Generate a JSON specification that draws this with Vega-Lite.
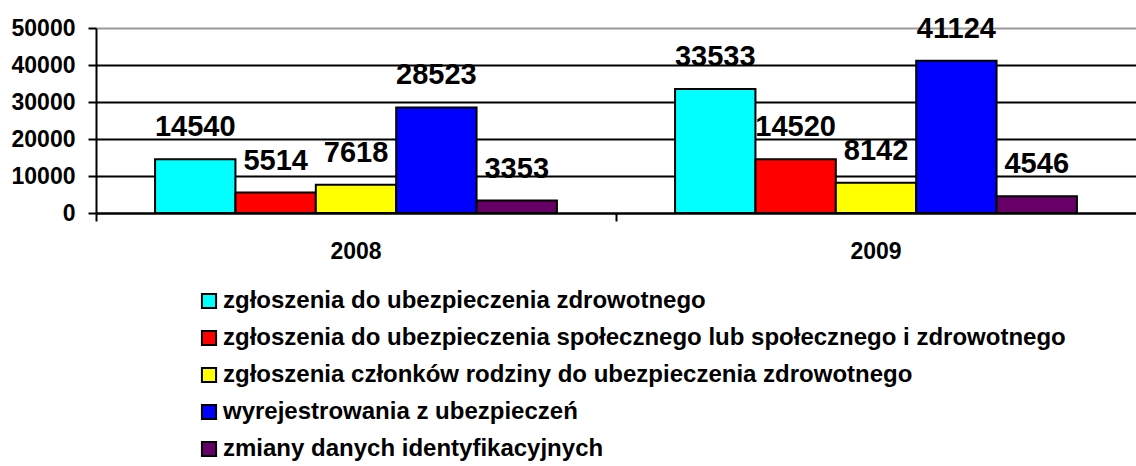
{
  "$schema": "https://vega.github.io/schema/vega-lite/v6.json",
  "width": 1040,
  "height": 185,
  "autosize": {"type": "none"},
  "padding": {"left": 96, "top": 28, "right": 0, "bottom": 253},
  "background": "white",
  "config": {
    "view": {"stroke": null},
    "font": "Liberation Sans"
  },
  "data": {
    "values": [
      {"year": "2008", "cat": "zgłoszenia do ubezpieczenia zdrowotnego", "value": 14540},
      {"year": "2008", "cat": "zgłoszenia do ubezpieczenia społecznego lub społecznego i zdrowotnego", "value": 5514},
      {"year": "2008", "cat": "zgłoszenia członków rodziny do ubezpieczenia zdrowotnego", "value": 7618},
      {"year": "2008", "cat": "wyrejestrowania z ubezpieczeń", "value": 28523},
      {"year": "2008", "cat": "zmiany danych identyfikacyjnych", "value": 3353},
      {"year": "2009", "cat": "zgłoszenia do ubezpieczenia zdrowotnego", "value": 33533},
      {"year": "2009", "cat": "zgłoszenia do ubezpieczenia społecznego lub społecznego i zdrowotnego", "value": 14520},
      {"year": "2009", "cat": "zgłoszenia członków rodziny do ubezpieczenia zdrowotnego", "value": 8142},
      {"year": "2009", "cat": "wyrejestrowania z ubezpieczeń", "value": 41124},
      {"year": "2009", "cat": "zmiany danych identyfikacyjnych", "value": 4546}
    ]
  },
  "encoding": {
    "x": {
      "field": "year", "type": "nominal",
      "scale": {"paddingInner": 0, "paddingOuter": 0},
      "axis": {
        "title": null, "labelAngle": 0, "bandPosition": 0,
        "labelFontSize": 23, "labelFontWeight": "bold", "labelColor": "black",
        "domainColor": "black", "domainWidth": 2, "tickColor": "black", "tickWidth": 2,
        "tickSize": 8, "labelPadding": 19, "grid": false
      }
    },
    "xOffset": {
      "field": "cat", "type": "nominal", "sort": null,
      "scale": {"paddingInner": 0, "paddingOuter": 0.735}
    },
    "y": {
      "field": "value", "type": "quantitative",
      "scale": {"domain": [0, 50000], "nice": false},
      "axis": {
        "title": null, "values": [0, 10000, 20000, 30000, 40000, 50000],
        "format": "d", "labelFontSize": 23, "labelFontWeight": "bold", "labelColor": "black",
        "domainColor": "black", "domainWidth": 2, "tickColor": "black", "tickWidth": 2,
        "tickSize": 8, "labelPadding": 13,
        "grid": true, "gridWidth": 2,
        "gridColor": {"condition": {"test": "datum.value === 50000", "value": "#999999"}, "value": "black"}
      }
    }
  },
  "layer": [
    {
      "mark": {"type": "bar", "stroke": "black", "strokeWidth": 2},
      "encoding": {
        "color": {
          "field": "cat", "type": "nominal", "sort": null,
          "scale": {
            "domain": [
              "zgłoszenia do ubezpieczenia zdrowotnego",
              "zgłoszenia do ubezpieczenia społecznego lub społecznego i zdrowotnego",
              "zgłoszenia członków rodziny do ubezpieczenia zdrowotnego",
              "wyrejestrowania z ubezpieczeń",
              "zmiany danych identyfikacyjnych"
            ],
            "range": ["#00FFFF", "#FF0000", "#FFFF00", "#0000FF", "#660066"]
          },
          "legend": {
            "title": null, "orient": "none", "legendX": 101, "legendY": 261,
            "direction": "vertical", "symbolType": "square", "symbolSize": 200,
            "symbolStrokeColor": "black", "symbolStrokeWidth": 2, "symbolOpacity": 1,
            "labelFontSize": 24, "labelFontWeight": "bold", "labelColor": "black",
            "labelLimit": 1000, "rowPadding": 13, "labelOffset": 2
          }
        }
      }
    },
    {
      "mark": {"type": "text", "dy": -32, "baseline": "middle", "fontSize": 29, "fontWeight": "bold", "color": "black"},
      "encoding": {
        "text": {"field": "value", "type": "quantitative", "format": "d"}
      }
    }
  ]
}
